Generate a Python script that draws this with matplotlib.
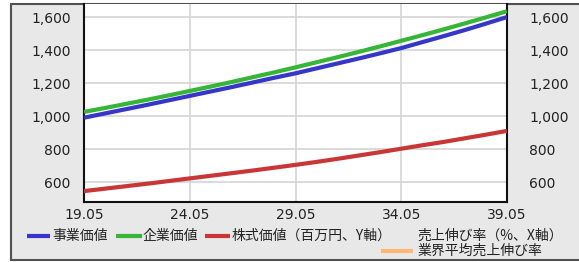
import matplotlib
matplotlib.use("Agg")
import matplotlib.pyplot as plt
from matplotlib.lines import Line2D
from matplotlib.patches import Rectangle
from matplotlib.ticker import FuncFormatter

plt.rcParams['font.family'] = ['DejaVu Sans', 'Noto Sans CJK JP']

# ---- data ----
years = list(range(19, 40))
tick_years = [19, 24, 29, 34, 39]
tick_labels = ["19.05", "24.05", "29.05", "34.05", "39.05"]
y_ticks = [600, 800, 1000, 1200, 1400, 1600]

business_value = [990, 1016, 1042, 1068, 1095, 1122, 1149, 1176, 1204, 1232, 1259,
                  1289, 1319, 1349, 1380, 1412, 1448, 1484, 1521, 1560, 1600]
enterprise_value = [1025, 1049, 1074, 1099, 1125, 1152, 1179, 1207, 1236, 1265, 1295,
                    1326, 1357, 1389, 1422, 1456, 1490, 1525, 1561, 1598, 1635]
equity_value = [545, 560, 575, 590, 606, 622, 638, 654, 670, 687, 704,
                722, 741, 761, 781, 802, 823, 843, 865, 887, 910]

labels = ["事業価値", "企業価値", "株式価値（百万円、Y軸）", "売上伸び率（%、X軸）", "業界平均売上伸び率"]
colors = ["#3636c8", "#36b636", "#c83636", None, "#ffb870"]

W, H = 579, 262
fig = plt.figure(figsize=(W / 100, H / 100), dpi=100)
fig.patch.set_facecolor("white")

def fx(px):
    return px / W

def fy(py):
    return 1 - py / H

# outer gray frame
fig.patches.append(Rectangle((fx(11), fy(260)), (600 - 11) / W, (260 - 3.5) / H,
                             transform=fig.transFigure, facecolor="#e8e8e8",
                             edgecolor="#505050", lw=1.5, zorder=-5))

ax = fig.add_axes([fx(84), fy(202), (507 - 84) / W, (202 - 4) / H])
ax.set_facecolor("white")
ax.set_xlim(19, 39)
ax.set_ylim(479, 1679)

ax.plot(years, business_value, color=colors[0], lw=3, solid_capstyle="butt", zorder=3)
ax.plot(years, enterprise_value, color=colors[1], lw=3, solid_capstyle="butt", zorder=3)
ax.plot(years, equity_value, color=colors[2], lw=3, solid_capstyle="butt", zorder=3)

ax.set_xticks(tick_years)
ax.set_xticklabels(tick_labels)
ax.set_yticks(y_ticks)
fmt = FuncFormatter(lambda v, p: f"{v:,.0f}")
ax.yaxis.set_major_formatter(fmt)
ax.grid(True, color="#d4d4d4", lw=1.2, zorder=0)
ax.tick_params(axis="both", length=0, labelsize=10, colors="#222222")
ax.tick_params(axis="y", pad=9.5)
ax.tick_params(axis="x", pad=4)

for s in ["left", "bottom", "right"]:
    ax.spines[s].set_color("#111111")
    ax.spines[s].set_linewidth(1.5)
ax.spines["top"].set_visible(False)

ax2 = ax.twinx()
ax2.set_ylim(ax.get_ylim())
ax2.set_yticks(y_ticks)
ax2.yaxis.set_major_formatter(fmt)
ax2.tick_params(axis="y", length=0, labelsize=10, colors="#222222", pad=16)
for s in ax2.spines.values():
    s.set_visible(False)

# legend (custom flow layout)
cjk = ["Noto Sans CJK JP", "DejaVu Sans"]
items = [
    (27, 50, 52, 236, 0),
    (116, 142, 143, 236, 1),
    (205, 230, 232, 236, 2),
    (None, None, 417, 236, 3),
    (381, 413, 418, 251, 4),
]
for x0, x1, tx, ty, i in items:
    if x0 is not None:
        fig.add_artist(Line2D([fx(x0), fx(x1)], [fy(ty), fy(ty)], transform=fig.transFigure,
                              color=colors[i], lw=3, solid_capstyle="butt"))
    fig.text(fx(tx), fy(ty), labels[i], family=cjk, fontsize=10, color="#222222",
             ha="left", va="center")

fig.savefig("out.png", dpi=100)
